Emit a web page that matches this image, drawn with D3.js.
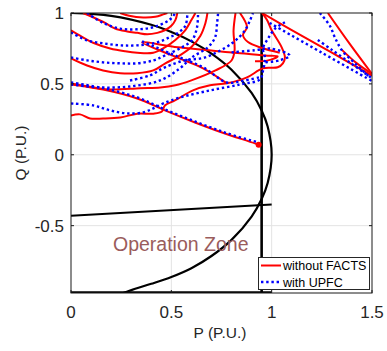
<!DOCTYPE html>
<html><head><meta charset="utf-8">
<script src="https://cdn.jsdelivr.net/npm/d3@7"></script>
<style>html,body{margin:0;padding:0;background:#fff;}svg{display:block;font-family:"Liberation Sans",Arial,sans-serif;}</style>
</head><body><svg id="c" width="387" height="351"></svg>
<script>
// ---- data (P, Q in per unit) ----
const xTicks = [0, 0.5, 1, 1.5];
const yTicks = [-0.5, 0, 0.5, 1];
const xTickLabels = ["0", "0.5", "1", "1.5"];
const yTickLabels = ["-0.5", "0", "0.5", "1"];
const legendLabels = ["without FACTS", "with UPFC"];

const capabilityCircle = [[0,1],[0.2,0.98],[0.4,0.917],[0.5,0.866],[0.6,0.8],[0.7,0.714],[0.8,0.6],[0.9,0.436],[0.95,0.312],[0.98,0.199],[1.0,0],[0.98,-0.199],[0.95,-0.312],[0.9,-0.436],[0.8,-0.6],[0.7,-0.714],[0.6,-0.8],[0.5,-0.862],[0.4,-0.91],[0.32,-0.945],[0.26,-0.975]];
const pLimit = [[0.95,1],[0.95,-0.975]];
const qLimit = [[0,-0.43],[1.0,-0.35]];
const bottomLimit = [[0,-0.975],[1.0,-0.975]];

const redArc1 = [[0.245,1.0],[0.29,0.98],[0.36,0.968],[0.42,0.973],[0.46,0.99],[0.48,1.0]];
const redArc2 = [[0.06,1.0],[0.11,0.97],[0.17,0.93],[0.22,0.89],[0.28,0.87],[0.33,0.86],[0.38,0.85],[0.43,0.86],[0.47,0.88],[0.50,0.91],[0.52,0.95],[0.53,1.0]];
const redArc3 = [[0,0.878],[0.045,0.84],[0.11,0.79],[0.195,0.75],[0.27,0.73],[0.33,0.72],[0.41,0.72],[0.47,0.76],[0.52,0.81],[0.57,0.88],[0.60,0.95],[0.62,1.0]];
const redArc4 = [[0,0.68],[0.08,0.63],[0.16,0.595],[0.245,0.575],[0.33,0.575],[0.41,0.595],[0.47,0.645],[0.53,0.69],[0.60,0.76],[0.645,0.84],[0.67,0.93],[0.68,1.0]];
const redArc5 = [[0,0.503],[0.095,0.48],[0.195,0.46],[0.345,0.47],[0.445,0.475],[0.52,0.49],[0.60,0.525],[0.72,0.595],[0.80,0.665],[0.815,0.735],[0.81,0.875],[0.82,1.0]];
const redOuter = [[0,0.277],[0.045,0.285],[0.095,0.256],[0.16,0.256],[0.245,0.263],[0.33,0.29],[0.41,0.29],[0.453,0.305],[0.468,0.348],[0.518,0.383],[0.608,0.454],[0.693,0.49],[0.777,0.504],[0.877,0.546],[0.957,0.61],[1.03,0.617],[1.056,0.645],[1.066,0.687],[1.05,0.758],[1.0,0.878],[0.977,0.95],[0.952,1.0]];
const redArrow = [[0.777,0.504],[0.658,0.61],[0.528,0.687],[0.354,0.793],[0.533,0.758],[0.802,0.722],[0.967,0.70],[1.03,0.694],[0.982,0.666],[0.917,0.659]];
const redTop = [[0.842,1.0],[0.877,0.9],[0.857,0.845],[0.882,0.795],[0.952,0.753],[1.04,0.72]];
const redDiag = [[0,0.496],[0.16,0.46],[0.33,0.397],[0.468,0.313],[0.618,0.228],[0.767,0.15],[0.917,0.08],[0.94,0.066]];
const redRight1 = [[0.952,1.0],[1.1,0.88],[1.3,0.72],[1.5,0.558]];
const redRight2 = [[1.28,1.0],[1.39,0.78],[1.5,0.57]];
const redRight3 = [[1.35,0.74],[1.42,0.65],[1.5,0.57]];
const redEnd = [[0.935,0.07]];

const blueArc1 = [[0.08,1.0],[0.16,0.93],[0.245,0.89],[0.33,0.885],[0.41,0.90],[0.49,0.95],[0.52,1.0]];
const blueArc2 = [[0,0.863],[0.08,0.807],[0.16,0.786],[0.245,0.772],[0.33,0.772],[0.43,0.793],[0.49,0.828],[0.53,0.857],[0.57,0.91],[0.58,1.0]];
const blueArc3 = [[0,0.687],[0.08,0.666],[0.16,0.652],[0.245,0.645],[0.33,0.645],[0.41,0.666],[0.468,0.70],[0.553,0.758],[0.603,0.807],[0.628,0.899],[0.633,1.0]];
const blueArc4 = [[0,0.496],[0.145,0.475],[0.294,0.482],[0.444,0.524],[0.543,0.61],[0.603,0.687],[0.682,0.758],[0.718,0.828],[0.728,0.927],[0.733,1.0]];
const blueArc5 = [[0.294,0.524],[0.394,0.56],[0.468,0.617],[0.568,0.666],[0.668,0.687],[0.802,0.786],[0.867,0.878],[0.892,0.948],[0.907,1.0]];
const blueOuter = [[0,0.362],[0.11,0.348],[0.195,0.313],[0.28,0.292],[0.36,0.299],[0.41,0.327],[0.46,0.362],[0.543,0.404],[0.693,0.454],[0.842,0.496],[0.942,0.532],[0.957,0.595],[0.967,0.68],[0.957,0.75],[0.982,0.82],[1.017,0.89],[1.066,0.935]];
const blueDiagA = [[0.354,0.80],[0.528,0.695],[0.658,0.617],[0.777,0.51],[0.85,0.52],[0.95,0.55]];
const blueDiag = [[0,0.51],[0.16,0.47],[0.33,0.405],[0.468,0.32],[0.618,0.235],[0.767,0.157],[0.90,0.10],[0.93,0.09]];
const blueKnot = [[0.80,0.722],[0.917,0.737],[0.992,0.75],[1.09,0.70],[1.04,0.666],[0.967,0.652]];
const blueRight1 = [[0.99,0.93],[1.25,0.72],[1.5,0.52]];
const blueRight2 = [[1.24,1.0],[1.29,0.91],[1.315,0.828],[1.35,0.737],[1.415,0.645],[1.49,0.546]];
const blueRight3 = [[1.23,0.81],[1.3,0.74],[1.4,0.64],[1.5,0.54]];

const redSeries = [redArc1, redArc2, redArc3, redArc4, redArc5, redOuter, redArrow, redTop, redDiag, redRight1, redRight2, redRight3];
const blueSeries = [blueArc1, blueArc2, blueArc3, blueArc4, blueArc5, blueOuter, blueDiagA, blueDiag, blueKnot, blueRight1, blueRight2, blueRight3];

// ---- drawing ----
const m = {left: 71, right: 372, top: 13, bottom: 293};
const x = d3.scaleLinear().domain([0, 1.5]).range([m.left, m.right]);
const y = d3.scaleLinear().domain([-0.975, 1]).range([m.bottom, m.top]);
const svg = d3.select("#c");
const font = '"Liberation Sans", Arial, sans-serif';

svg.append("defs").append("clipPath").attr("id","clip")
  .append("rect").attr("x", m.left).attr("y", m.top).attr("width", m.right-m.left).attr("height", m.bottom-m.top);

// grid
const g = svg.append("g");
g.selectAll(".gx").data(xTicks.slice(1, -1)).enter().append("line")
  .attr("x1", d => x(d)).attr("x2", d => x(d)).attr("y1", m.top).attr("y2", m.bottom)
  .attr("stroke", "#e3e3e3").attr("stroke-width", 1);
g.selectAll(".gy").data(yTicks.filter(v => v < 1)).enter().append("line")
  .attr("y1", d => y(d)).attr("y2", d => y(d)).attr("x1", m.left).attr("x2", m.right)
  .attr("stroke", "#e3e3e3").attr("stroke-width", 1);

const plot = svg.append("g").attr("clip-path", "url(#clip)");
const lineLin = d3.line().x(d => x(d[0])).y(d => y(d[1]));
const lineSmooth = d3.line().x(d => x(d[0])).y(d => y(d[1])).curve(d3.curveCatmullRom.alpha(0.5));

// black limits
plot.append("path").attr("d", lineSmooth(capabilityCircle)).attr("fill","none").attr("stroke","#000").attr("stroke-width",2.2);
plot.append("path").attr("d", lineLin(pLimit)).attr("fill","none").attr("stroke","#000").attr("stroke-width",2.6);
plot.append("path").attr("d", lineLin(qLimit)).attr("fill","none").attr("stroke","#000").attr("stroke-width",2);
plot.append("path").attr("d", lineLin(bottomLimit)).attr("fill","none").attr("stroke","#000").attr("stroke-width",3.5);

// red
redSeries.forEach(s => {
  plot.append("path").attr("d", lineSmooth(s)).attr("fill","none").attr("stroke","#ff0000")
    .attr("stroke-width",2).attr("stroke-linejoin","round");
});
plot.selectAll(".rend").data(redEnd).enter().append("circle")
  .attr("cx", d => x(d[0])).attr("cy", d => y(d[1])).attr("r", 3).attr("fill", "#ff0000");
// blue
blueSeries.forEach(s => {
  plot.append("path").attr("d", lineSmooth(s)).attr("fill","none").attr("stroke","#0000ff")
    .attr("stroke-width",2.4).attr("stroke-dasharray","2.4,2.8");
});

// axes box & ticks
const ax = svg.append("g");
ax.append("rect").attr("x", m.left).attr("y", m.top).attr("width", m.right-m.left).attr("height", m.bottom-m.top)
  .attr("fill","none").attr("stroke","#1a1a1a").attr("stroke-width",1);
const tl = 3;
xTicks.forEach(v => {
  ax.append("line").attr("x1",x(v)).attr("x2",x(v)).attr("y1",m.bottom).attr("y2",m.bottom-tl).attr("stroke","#1a1a1a");
  ax.append("line").attr("x1",x(v)).attr("x2",x(v)).attr("y1",m.top).attr("y2",m.top+tl).attr("stroke","#1a1a1a");
});
yTicks.forEach(v => {
  ax.append("line").attr("y1",y(v)).attr("y2",y(v)).attr("x1",m.left).attr("x2",m.left+tl).attr("stroke","#1a1a1a");
  ax.append("line").attr("y1",y(v)).attr("y2",y(v)).attr("x1",m.right).attr("x2",m.right-tl).attr("stroke","#1a1a1a");
});
ax.selectAll(".xl").data(xTicks).enter().append("text")
  .attr("x", d => x(d)).attr("y", 318).attr("text-anchor","middle")
  .attr("font-size", 17).attr("fill","#262626").attr("font-family", font)
  .text((d,i) => xTickLabels[i]);
ax.selectAll(".yl").data(yTicks).enter().append("text")
  .attr("x", 64).attr("y", d => y(d) + 6.3).attr("text-anchor","end")
  .attr("font-size", 17).attr("fill","#262626").attr("font-family", font)
  .text((d,i) => yTickLabels[i]);
ax.append("text").attr("x", 220).attr("y", 338).attr("text-anchor","middle")
  .attr("font-size", 15.5).attr("fill","#262626").attr("font-family", font).text("P (P.U.)");
ax.append("text").attr("transform","translate(26,153) rotate(-90)").attr("text-anchor","middle")
  .attr("font-size", 15.5).attr("fill","#262626").attr("font-family", font).text("Q (P.U.)");

// annotation
svg.append("text").attr("x", 113).attr("y", 251).attr("font-size", 19.5).attr("fill", "#9a5c5c")
  .attr("font-family", font).text("Operation Zone");

// legend
const lg = svg.append("g");
lg.append("rect").attr("x", 258.5).attr("y", 257.5).attr("width", 111).attr("height", 32)
  .attr("fill","#fff").attr("stroke","#262626").attr("stroke-width",1);
lg.append("line").attr("x1",261).attr("x2",281).attr("y1",265.5).attr("y2",265.5).attr("stroke","#ff0000").attr("stroke-width",2);
lg.append("line").attr("x1",261).attr("x2",281).attr("y1",282).attr("y2",282).attr("stroke","#0000ff").attr("stroke-width",2.4).attr("stroke-dasharray","2.4,2.8");
lg.selectAll(".lt").data(legendLabels).enter().append("text")
  .attr("x", 283).attr("y", (d,i) => 270 + i*16.5).attr("font-size", 12.5).attr("fill","#000")
  .attr("font-family", font).text(d => d);
</script></body></html>
